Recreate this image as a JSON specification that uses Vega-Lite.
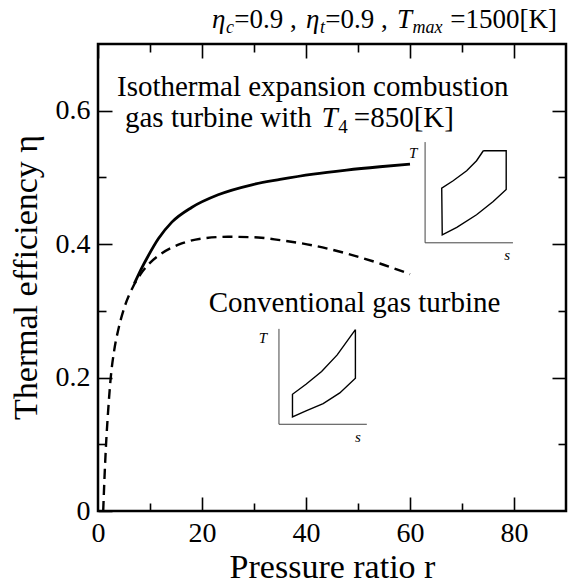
{
  "$schema": "https://vega.github.io/schema/vega-lite/v6.json",
  "width": 468,
  "height": 467,
  "autosize": "none",
  "padding": {"left": 98, "top": 44, "right": 6, "bottom": 72},
  "background": "white",
  "config": {
    "view": {"stroke": "black", "strokeWidth": 2.5},
    "font": "Liberation Serif",
    "text": {"font": "Liberation Serif", "color": "black"}
  },
  "datasets": {
    "conventional": [
      {"r": 1, "eta": 0}, {"r": 1.25, "eta": 0.05}, {"r": 1.55, "eta": 0.1}, {"r": 1.95, "eta": 0.15},
      {"r": 2.45, "eta": 0.2}, {"r": 3.1, "eta": 0.24}, {"r": 4.0, "eta": 0.275}, {"r": 5.2, "eta": 0.308},
      {"r": 6.6, "eta": 0.334}, {"r": 8.2, "eta": 0.355}, {"r": 10, "eta": 0.372}, {"r": 12.2, "eta": 0.386},
      {"r": 16.1, "eta": 0.401}, {"r": 20.6, "eta": 0.409}, {"r": 25, "eta": 0.411}, {"r": 30.8, "eta": 0.41},
      {"r": 35, "eta": 0.406}, {"r": 41.4, "eta": 0.398}, {"r": 47.8, "eta": 0.386}, {"r": 54.2, "eta": 0.371},
      {"r": 60, "eta": 0.355}
    ],
    "isothermal": [
      {"r": 7.0, "eta": 0.341}, {"r": 8.4, "eta": 0.364}, {"r": 9.7, "eta": 0.383}, {"r": 11.6, "eta": 0.408},
      {"r": 14.2, "eta": 0.433}, {"r": 18, "eta": 0.455}, {"r": 23.1, "eta": 0.474}, {"r": 29.6, "eta": 0.489},
      {"r": 35, "eta": 0.497}, {"r": 41.4, "eta": 0.505}, {"r": 47.8, "eta": 0.511}, {"r": 54.2, "eta": 0.516},
      {"r": 60, "eta": 0.52}
    ],
    "insetAxes": [
      {"path": "iso", "ord": 1, "r": 62.9, "eta": 0.553}, {"path": "iso", "ord": 2, "r": 62.9, "eta": 0.402}, {"path": "iso", "ord": 3, "r": 79.8, "eta": 0.402},
      {"path": "conv", "ord": 1, "r": 34.8, "eta": 0.273}, {"path": "conv", "ord": 2, "r": 34.8, "eta": 0.13}, {"path": "conv", "ord": 3, "r": 51.7, "eta": 0.13}
    ],
    "insetCycles": [
      {"path": "iso", "ord": 1, "r": 74.1, "eta": 0.54}, {"path": "iso", "ord": 2, "r": 78.5, "eta": 0.54},
      {"path": "iso", "ord": 3, "r": 78.5, "eta": 0.482}, {"path": "iso", "ord": 4, "r": 76.0, "eta": 0.464},
      {"path": "iso", "ord": 5, "r": 72.8, "eta": 0.444}, {"path": "iso", "ord": 6, "r": 69.0, "eta": 0.425},
      {"path": "iso", "ord": 7, "r": 66.2, "eta": 0.414}, {"path": "iso", "ord": 8, "r": 66.1, "eta": 0.484},
      {"path": "iso", "ord": 9, "r": 68.3, "eta": 0.495}, {"path": "iso", "ord": 10, "r": 70.9, "eta": 0.51},
      {"path": "iso", "ord": 11, "r": 72.8, "eta": 0.525}, {"path": "iso", "ord": 12, "r": 74.1, "eta": 0.54},
      {"path": "conv", "ord": 1, "r": 49.5, "eta": 0.272}, {"path": "conv", "ord": 2, "r": 49.5, "eta": 0.199},
      {"path": "conv", "ord": 3, "r": 46.5, "eta": 0.177}, {"path": "conv", "ord": 4, "r": 43.3, "eta": 0.161},
      {"path": "conv", "ord": 5, "r": 40.0, "eta": 0.15}, {"path": "conv", "ord": 6, "r": 37.4, "eta": 0.141},
      {"path": "conv", "ord": 7, "r": 37.4, "eta": 0.175}, {"path": "conv", "ord": 8, "r": 40.0, "eta": 0.19},
      {"path": "conv", "ord": 9, "r": 43.0, "eta": 0.209}, {"path": "conv", "ord": 10, "r": 46.0, "eta": 0.234},
      {"path": "conv", "ord": 11, "r": 49.5, "eta": 0.272}
    ],
    "insetLabels": [
      {"text": "T", "r": 60.6, "eta": 0.537}, {"text": "s", "r": 78.7, "eta": 0.384},
      {"text": "T", "r": 31.7, "eta": 0.259}, {"text": "s", "r": 50, "eta": 0.111}
    ],
    "labels": [
      {"text": "Isothermal expansion combustion", "r": 3.65, "eta": 0.622},
      {"text": "gas turbine with", "r": 5.19, "eta": 0.576},
      {"text": "=850[K]", "r": 49.2, "eta": 0.576},
      {"text": "Conventional gas turbine", "r": 21.3, "eta": 0.299}
    ],
    "labelItalic": [{"text": "T", "r": 43.0, "eta": 0.576}],
    "labelSub": [{"text": "4", "r": 46.2, "eta": 0.566}],
    "titleItalic": [
      {"text": "η", "r": 21.92, "eta": 0.724}, {"text": "η", "r": 40.0, "eta": 0.724}, {"text": "T", "r": 57.48, "eta": 0.724}
    ],
    "titleSub": [
      {"text": "c", "r": 24.62, "eta": 0.7165}, {"text": "t", "r": 42.69, "eta": 0.7165}, {"text": "max", "r": 60.46, "eta": 0.7165}
    ],
    "titleText": [
      {"text": "=0.9 ,", "r": 26.21, "eta": 0.724}, {"text": "=0.9 ,", "r": 43.69, "eta": 0.724}, {"text": "=1500[K]", "r": 67.75, "eta": 0.724}
    ]
  },
  "encoding": {
    "x": {"field": "r", "type": "quantitative", "scale": {"domain": [0, 90], "nice": false, "zero": false}, "axis": null},
    "y": {"field": "eta", "type": "quantitative", "scale": {"domain": [0, 0.7], "nice": false, "zero": false}, "axis": null}
  },
  "layer": [
    {
      "data": {"name": "conventional"},
      "mark": {"type": "line", "color": "black", "strokeWidth": 2.4, "strokeDash": [10, 6], "interpolate": "monotone"},
      "encoding": {
        "x": {
          "field": "r", "type": "quantitative", "scale": {"domain": [0, 90], "nice": false, "zero": false},
          "axis": {
            "orient": "bottom", "values": [0, 20, 40, 60, 80], "ticks": false, "domain": false,
            "grid": true, "gridColor": "#000000", "gridWidth": 1.6, "gridOpacity": 1, "gridDash": [14, 1000],
            "labelPadding": 8, "labelFont": "Liberation Serif", "labelFontSize": 28, "labelColor": "black",
            "labelFlush": false, "labelOverlap": false,
            "title": "Pressure ratio  r", "titleFont": "Liberation Serif", "titleFontSize": 34, "titleFontWeight": "normal",
            "titleColor": "black", "titleBaseline": "alphabetic", "titleY": 66
          }
        },
        "y": {
          "field": "eta", "type": "quantitative", "scale": {"domain": [0, 0.7], "nice": false, "zero": false},
          "axis": {
            "orient": "left", "values": [0, 0.2, 0.4, 0.6], "ticks": false, "domain": false,
            "grid": true, "gridColor": "#000000", "gridWidth": 1.6, "gridOpacity": 1, "gridDash": [14, 1000],
            "labelExpr": "datum.value === 0 ? '0' : format(datum.value, '.1f')",
            "labelPadding": 8, "labelFont": "Liberation Serif", "labelFontSize": 28, "labelColor": "black",
            "labelFlush": false, "labelOverlap": false,
            "title": "Thermal efficiency  η", "titleFont": "Liberation Serif", "titleFontSize": 34, "titleFontWeight": "normal",
            "titleColor": "black", "titleBaseline": "alphabetic", "titleX": -62, "titleY": 233, "titleAngle": -90
          }
        }
      }
    },
    {
      "data": {"name": "isothermal"},
      "mark": {"type": "line", "color": "black", "strokeWidth": 2.8, "interpolate": "monotone"},
      "encoding": {
        "x": {
          "field": "r", "type": "quantitative", "scale": {"domain": [0, 90], "nice": false, "zero": false},
          "axis": {"orient": "top", "values": [20, 40, 60, 80], "labels": false, "title": null, "ticks": false, "domain": false,
            "grid": true, "gridColor": "#000000", "gridWidth": 1.6, "gridOpacity": 1, "gridDash": [14, 1000]}
        },
        "y": {
          "field": "eta", "type": "quantitative", "scale": {"domain": [0, 0.7], "nice": false, "zero": false},
          "axis": {"orient": "right", "values": [0.2, 0.4, 0.6], "labels": false, "title": null, "ticks": false, "domain": false,
            "grid": true, "gridColor": "#000000", "gridWidth": 1.6, "gridOpacity": 1, "gridDash": [14, 1000]}
        }
      }
    },
    {
      "data": {"name": "insetAxes"},
      "mark": {"type": "line", "color": "#444444", "strokeWidth": 1},
      "encoding": {
        "x": {
          "field": "r", "type": "quantitative", "scale": {"domain": [0, 90], "nice": false, "zero": false},
          "axis": {"orient": "bottom", "values": [10, 30, 50, 70], "labels": false, "title": null, "ticks": false, "domain": false,
            "grid": true, "gridColor": "#000000", "gridWidth": 1.6, "gridOpacity": 1, "gridDash": [8, 1000]}
        },
        "y": {
          "field": "eta", "type": "quantitative", "scale": {"domain": [0, 0.7], "nice": false, "zero": false},
          "axis": {"orient": "left", "values": [0.1, 0.3, 0.5], "labels": false, "title": null, "ticks": false, "domain": false,
            "grid": true, "gridColor": "#000000", "gridWidth": 1.6, "gridOpacity": 1, "gridDash": [8, 1000]}
        },
        "detail": {"field": "path"}, "order": {"field": "ord"}
      }
    },
    {
      "data": {"name": "insetCycles"},
      "mark": {"type": "line", "color": "black", "strokeWidth": 1.4, "interpolate": "linear"},
      "encoding": {
        "x": {
          "field": "r", "type": "quantitative", "scale": {"domain": [0, 90], "nice": false, "zero": false},
          "axis": {"orient": "top", "values": [10, 30, 50, 70], "labels": false, "title": null, "ticks": false, "domain": false,
            "grid": true, "gridColor": "#000000", "gridWidth": 1.6, "gridOpacity": 1, "gridDash": [8, 1000]}
        },
        "y": {
          "field": "eta", "type": "quantitative", "scale": {"domain": [0, 0.7], "nice": false, "zero": false},
          "axis": {"orient": "right", "values": [0.1, 0.3, 0.5], "labels": false, "title": null, "ticks": false, "domain": false,
            "grid": true, "gridColor": "#000000", "gridWidth": 1.6, "gridOpacity": 1, "gridDash": [8, 1000]}
        },
        "detail": {"field": "path"}, "order": {"field": "ord"}
      }
    },
    {
      "data": {"name": "insetLabels"},
      "mark": {"type": "text", "fontSize": 15, "fontStyle": "italic", "align": "center", "baseline": "middle"},
      "encoding": {"text": {"field": "text"}}
    },
    {
      "data": {"name": "labels"},
      "mark": {"type": "text", "fontSize": 29, "align": "left", "baseline": "alphabetic"},
      "encoding": {"text": {"field": "text"}}
    },
    {
      "data": {"name": "labelItalic"},
      "mark": {"type": "text", "fontSize": 29, "fontStyle": "italic", "align": "left", "baseline": "alphabetic"},
      "encoding": {"text": {"field": "text"}}
    },
    {
      "data": {"name": "labelSub"},
      "mark": {"type": "text", "fontSize": 19, "align": "left", "baseline": "alphabetic"},
      "encoding": {"text": {"field": "text"}}
    },
    {
      "data": {"name": "titleItalic"},
      "mark": {"type": "text", "fontSize": 27, "fontStyle": "italic", "align": "left", "baseline": "alphabetic"},
      "encoding": {"text": {"field": "text"}}
    },
    {
      "data": {"name": "titleSub"},
      "mark": {"type": "text", "fontSize": 18, "fontStyle": "italic", "align": "left", "baseline": "alphabetic"},
      "encoding": {"text": {"field": "text"}}
    },
    {
      "data": {"name": "titleText"},
      "mark": {"type": "text", "fontSize": 27, "align": "left", "baseline": "alphabetic"},
      "encoding": {"text": {"field": "text"}}
    }
  ],
  "resolve": {"axis": {"x": "independent", "y": "independent"}}
}
